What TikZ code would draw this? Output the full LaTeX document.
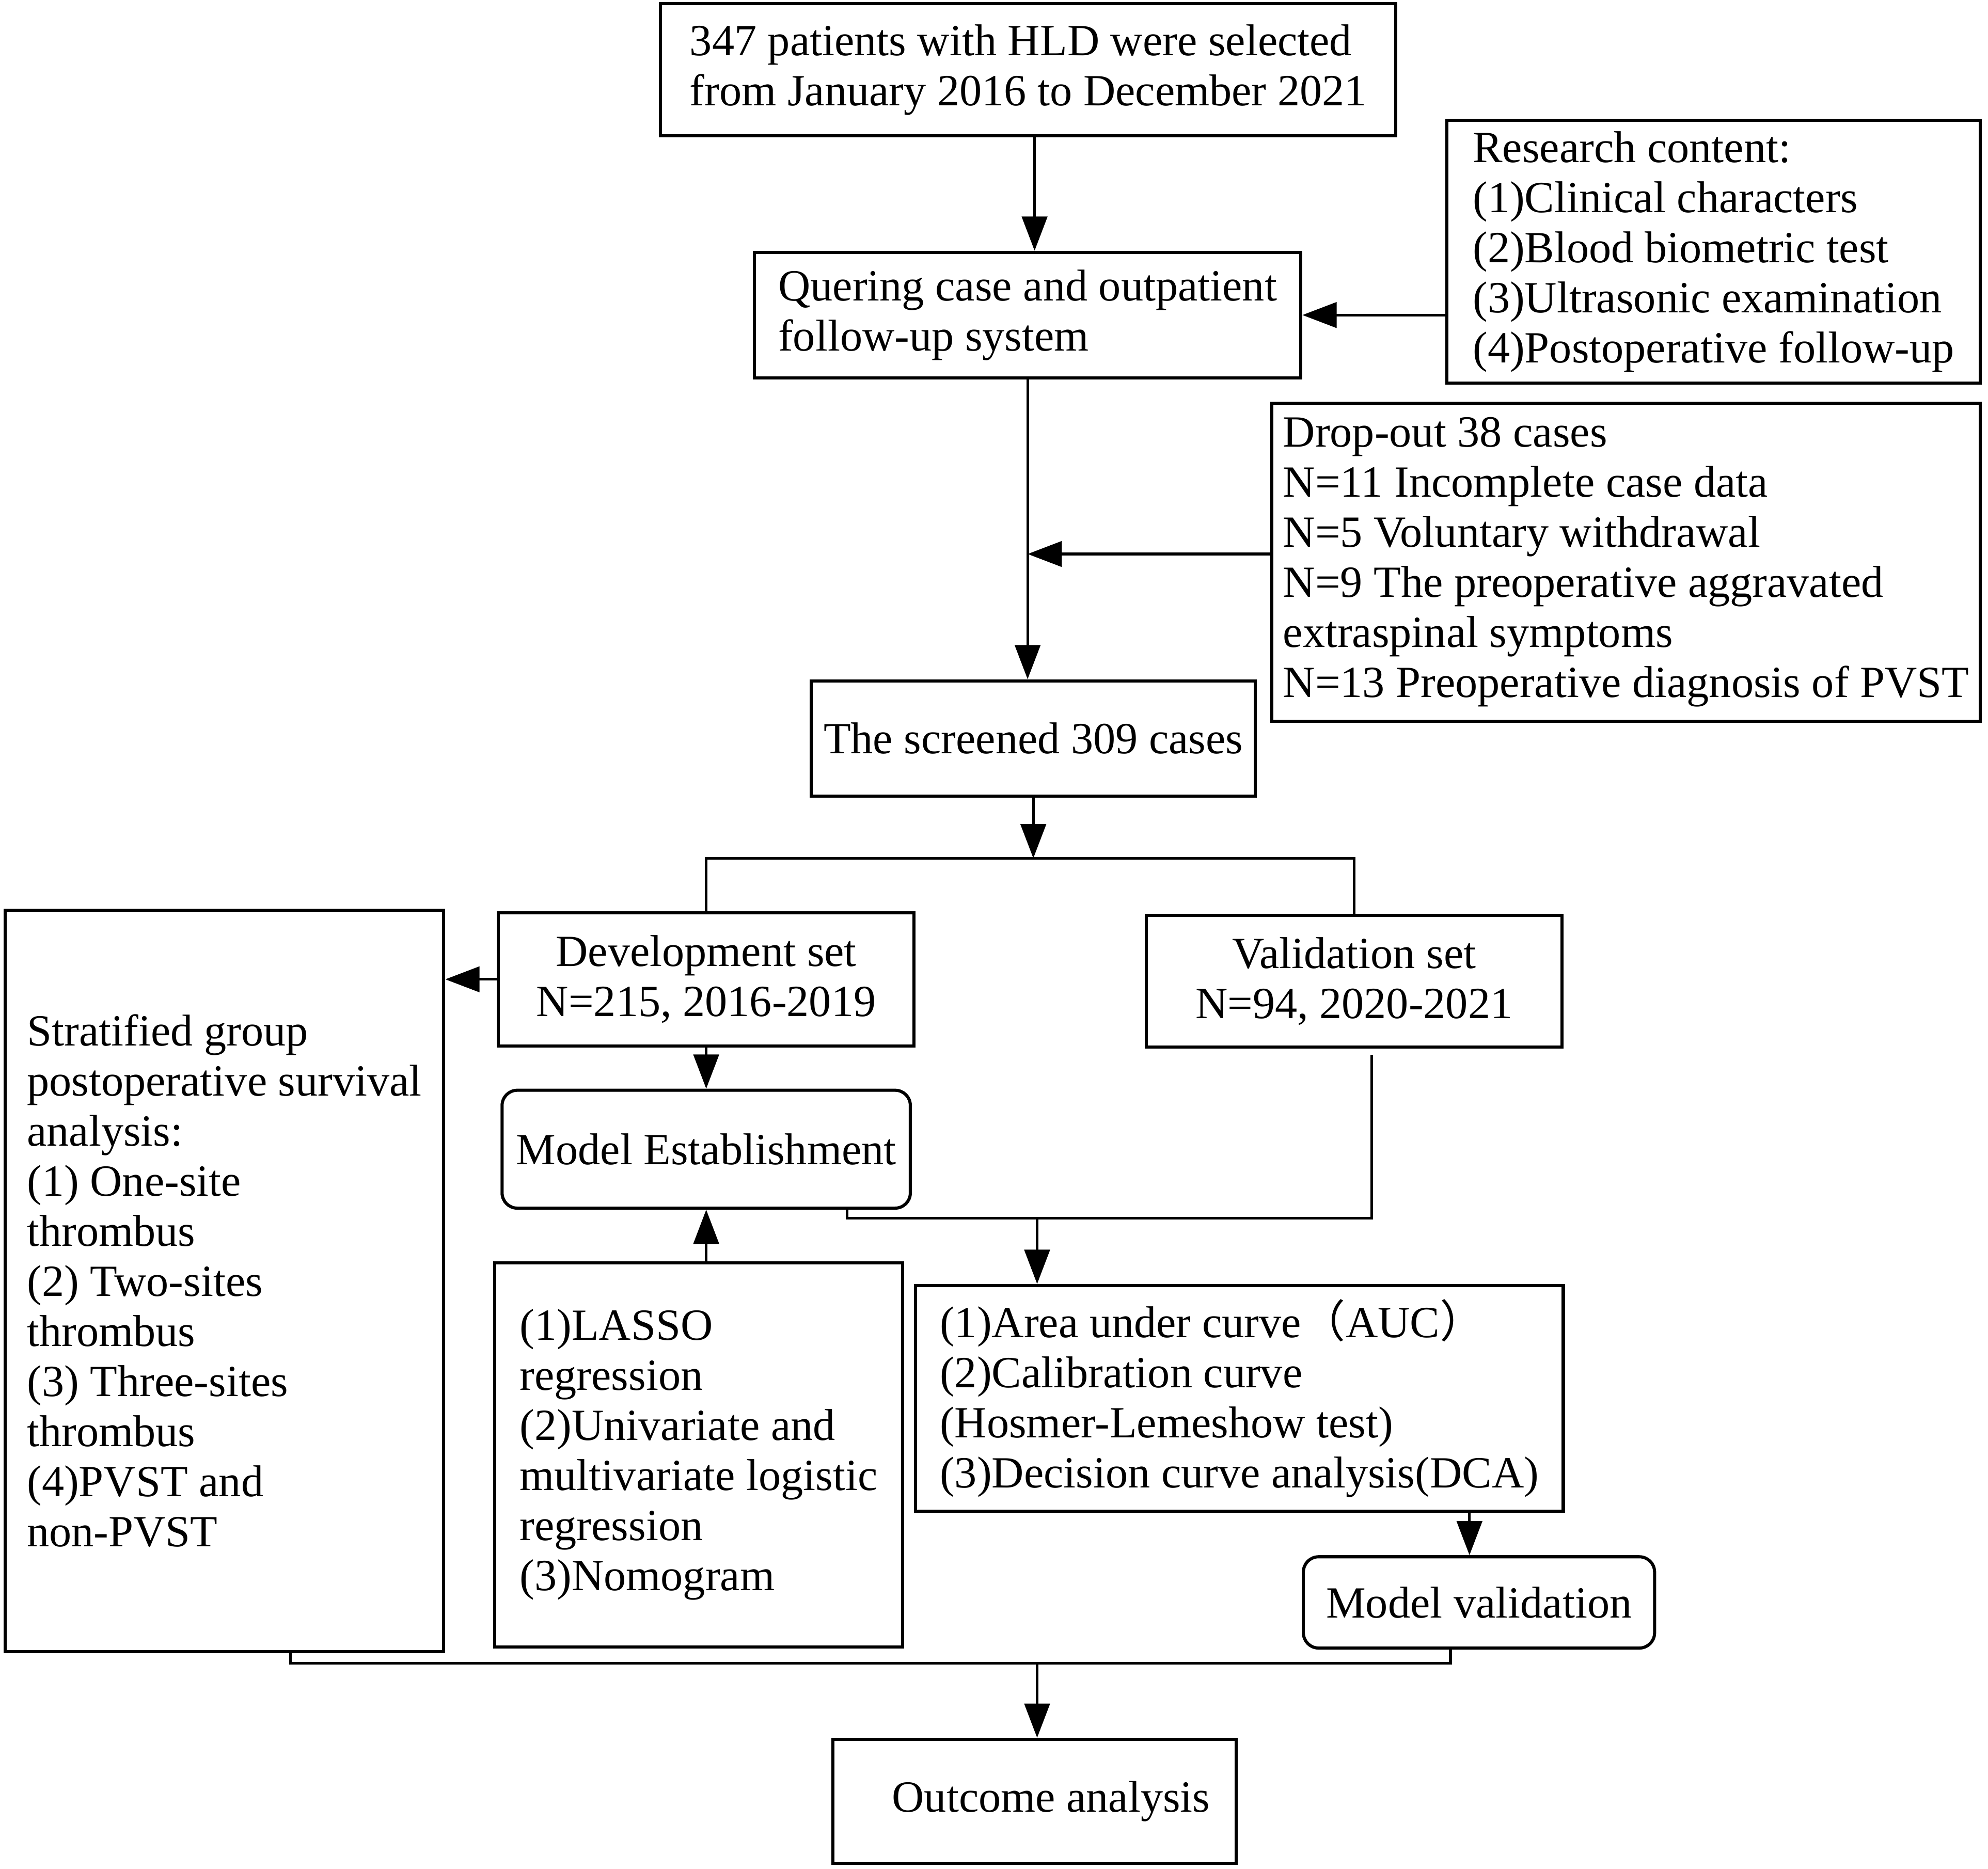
\documentclass[tikz,border=0pt]{standalone}
\usepackage{fontspec}
\setmainfont{Liberation Serif}
\newfontfamily\cjk{Noto Sans CJK SC}
\usetikzlibrary{arrows.meta}

\begin{document}
\begin{tikzpicture}[every node/.style={draw, line width=0.7pt, inner sep=0pt, align=left, font=\fontsize{10}{11.24}\selectfont}]
	\tikzset{arr/.style={line width=0.6pt, -{Triangle[length=0.27cm,width=0.2cm]}}, ln/.style={line width=0.6pt}, rnd/.style={rounded corners=0.12cm}}
	\useasboundingbox (0,0) rectangle (15.68,-14.74);
	\node[minimum width=5.80cm, minimum height=1.04cm] (sel) at (8.11,-0.55) {347 patients with HLD were selected\\from January 2016 to December 2021};
	\node[minimum width=4.31cm, minimum height=0.99cm] (query) at (8.105,-2.485) {Quering case and outpatient\\follow-up system};
	\node[minimum width=4.21cm, minimum height=2.07cm] (research) at (13.515,-1.985) {Research content:\\(1)Clinical characters\\(2)Blood biometric test\\(3)Ultrasonic examination\\(4)Postoperative follow-up};
	\node[minimum width=5.59cm, minimum height=2.51cm] (drop) at (12.825,-4.435) {Drop-out 38 cases\\N=11 Incomplete case data\\N=5 Voluntary withdrawal\\N=9 The preoperative aggravated\\extraspinal symptoms\\N=13 Preoperative diagnosis of PVST};
	\node[minimum width=3.50cm, minimum height=0.91cm] (screen) at (8.15,-5.825) {The screened 309 cases};
	\node[minimum width=3.28cm, minimum height=1.05cm, align=center] (devset) at (5.57,-7.725) {Development set\\N=215, 2016-2019};
	\node[minimum width=3.28cm, minimum height=1.04cm, align=center] (valset) at (10.68,-7.74) {Validation set\\N=94, 2020-2021};
	\node[minimum width=3.46cm, minimum height=5.85cm] (strat) at (1.77,-10.105) {Stratified group\\postoperative survival\\analysis:\\(1) One-site\\thrombus\\(2) Two-sites\\thrombus\\(3) Three-sites\\thrombus\\(4)PVST and\\non-PVST};
	\node[rnd, minimum width=3.22cm, minimum height=0.93cm] (modest) at (5.57,-9.065) {Model Establishment};
	\node[minimum width=3.22cm, minimum height=3.03cm] (lasso) at (5.51,-11.475) {(1)LASSO\\regression\\(2)Univariate and\\multivariate logistic\\regression\\(3)Nomogram};
	\node[minimum width=5.11cm, minimum height=1.78cm] (auc) at (9.775,-11.03) {(1)Area under curve{\cjk （}AUC{\cjk ）}\\(2)Calibration curve\\(Hosmer-Lemeshow test)\\(3)Decision curve analysis(DCA)};
	\node[rnd, minimum width=2.77cm, minimum height=0.72cm] (modval) at (11.665,-12.64) {Model validation};
	\node[minimum width=3.18cm, minimum height=0.98cm] (outcome) at (8.16,-14.21) {\hspace{0.26cm}Outcome analysis};

	\coordinate (split) at (8.15,-6.77);
	\coordinate (jn) at (8.18,-9.61);
	\coordinate (jn2) at (8.18,-13.12);

	\draw[arr] (sel.south -| 8.16,0) -- (query.north -| 8.16,0);
	\draw[arr] (query.east -| research.west) -- (query.east);
	\draw[arr] (query.south) -- (query.south |- screen.north);
	\draw[arr] ([yshift=0.065cm]drop.west) -- ([yshift=0.065cm]drop.west -| query.south);
	\draw[arr] (screen) -- (split);
	\draw[ln] (devset.north) |- (split) -| (valset.north);
	\draw[arr] (devset.west) -- (devset.west -| strat.east);
	\draw[arr] (devset) -- (modest);
	\draw[arr] (modest.south |- lasso.north) -- (modest.south);
	\draw[ln] ([xshift=-0.51cm]modest.south east) |- (jn) -| ([xshift=0.14cm, yshift=-0.05cm]valset.south);
	\draw[arr] (jn) -- (jn |- auc.north);
	\draw[arr] (auc.south -| 11.59,0) -- (modval.north -| 11.59,0);
	\draw[ln] ([xshift=0.52cm]strat.south) |- (jn2) -| ([xshift=-0.225cm]modval.south);
	\draw[arr] (jn2) -- (jn2 |- outcome.north);
\end{tikzpicture}
\end{document}
